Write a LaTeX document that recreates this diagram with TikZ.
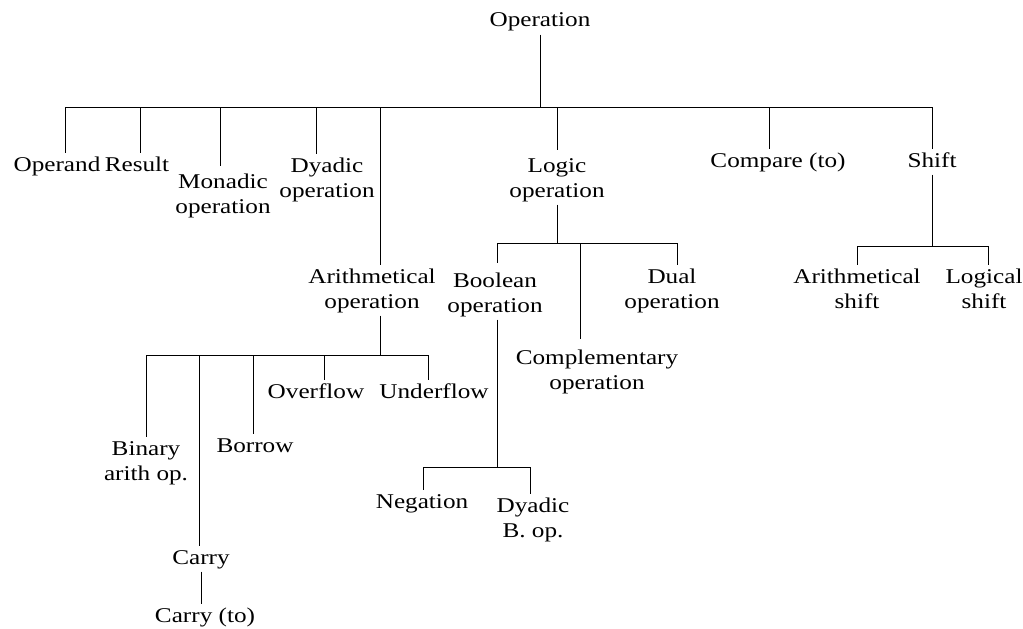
\documentclass[tikz,border=0pt]{standalone}
\usepackage{fontspec}
\setmainfont[FakeStretch=1.2]{Liberation Serif}
\newcommand{\lbl}[1]{\begin{tabular}[t]{@{}c@{}}#1\end{tabular}}
\begin{document}
\begin{tikzpicture}[x=1pt,y=-1pt,
  lab/.style={anchor=base, inner sep=0pt, font=\fontsize{21}{25}\selectfont},
  conn/.style={draw=black, line width=1pt}]
\useasboundingbox (0,0) rectangle (1023,629);
% nodes
\node[lab] (root) at (540,27) {\lbl{Operation}};
\node[lab] (opnd) at (57,171) {\lbl{Operand}};
\node[lab] (res) at (137,171) {\lbl{Result}};
\node[lab] (mon) at (223,188) {\lbl{Monadic\\operation}};
\node[lab] (dya) at (327,172) {\lbl{Dyadic\\operation}};
\node[lab] (ari) at (372,283) {\lbl{Arithmetical\\operation}};
\node[lab] (log) at (557,172) {\lbl{Logic\\operation}};
\node[lab] (cmp) at (778,167) {\lbl{Compare (to)}};
\node[lab] (shf) at (932,167) {\lbl{Shift}};
\node[lab] (boo) at (495,287) {\lbl{Boolean\\operation}};
\node[lab] (com) at (597,364) {\lbl{Complementary\\operation}};
\node[lab] (dua) at (672,283) {\lbl{Dual\\operation}};
\node[lab] (ash) at (857,283) {\lbl{Arithmetical\\shift}};
\node[lab] (lsh) at (984,283) {\lbl{Logical\\shift}};
\node[lab] (bin) at (146,455) {\lbl{Binary\\arith op.}};
\node[lab] (car) at (201,564) {\lbl{Carry}};
\node[lab] (bor) at (255,452) {\lbl{Borrow}};
\node[lab] (ovf) at (316,398) {\lbl{Overflow}};
\node[lab] (unf) at (434,398) {\lbl{Underflow}};
\node[lab] (cto) at (205,622) {\lbl{Carry (to)}};
\node[lab] (neg) at (422,508) {\lbl{Negation}};
\node[lab] (dyb) at (533,512) {\lbl{Dyadic\\B. op.}};
% junctions
\coordinate (j0) at (540,107);
\coordinate (jA) at (380,355);
\coordinate (jL) at (557,243);
\coordinate (jS) at (932,246);
\coordinate (jB) at (497,467);
% root level
\draw[conn] (root.south) -- (j0);
\draw[conn] (j0) -| ([xshift=8pt]opnd.north);
\draw[conn] (j0) -| ([xshift=3pt]res.north);
\draw[conn] (j0) -| ([xshift=-3pt,yshift=4pt]mon.north);
\draw[conn] (j0) -| ([xshift=-11pt]dya.north);
\draw[conn] (j0) -| ([xshift=8pt]ari.north);
\draw[conn] (j0) -| ([yshift=4pt]log.north);
\draw[conn] (j0) -| ([xshift=-9pt]cmp.north);
\draw[conn] (j0) -| (shf.north);
% arithmetical
\draw[conn] ([xshift=8pt]ari.south) -- (jA);
\draw[conn] (jA) -| (bin.north);
\draw[conn] (jA) -| ([xshift=-2pt]car.north);
\draw[conn] (jA) -| ([xshift=-2pt]bor.north);
\draw[conn] (jA) -| ([xshift=8pt]ovf.north);
\draw[conn] (jA) -| ([xshift=-6pt]unf.north);
\draw[conn] (car.south) -- ([xshift=-4pt]cto.north);
% logic
\draw[conn] (log.south) -- (jL);
\draw[conn] (jL) -| ([xshift=2pt,yshift=6pt]boo.north);
\draw[conn] (jL) -| ([xshift=-17pt,yshift=7pt]com.north);
\draw[conn] (jL) -| ([xshift=5pt]dua.north);
% boolean
\draw[conn] ([xshift=2pt]boo.south) -- (jB);
\draw[conn] (jB) -| ([xshift=1pt]neg.north);
\draw[conn] (jB) -| ([xshift=-3pt]dyb.north);
% shift
\draw[conn] (shf.south) -- (jS);
\draw[conn] (jS) -| (ash.north);
\draw[conn] (jS) -| ([xshift=4pt]lsh.north);
\end{tikzpicture}
\end{document}
